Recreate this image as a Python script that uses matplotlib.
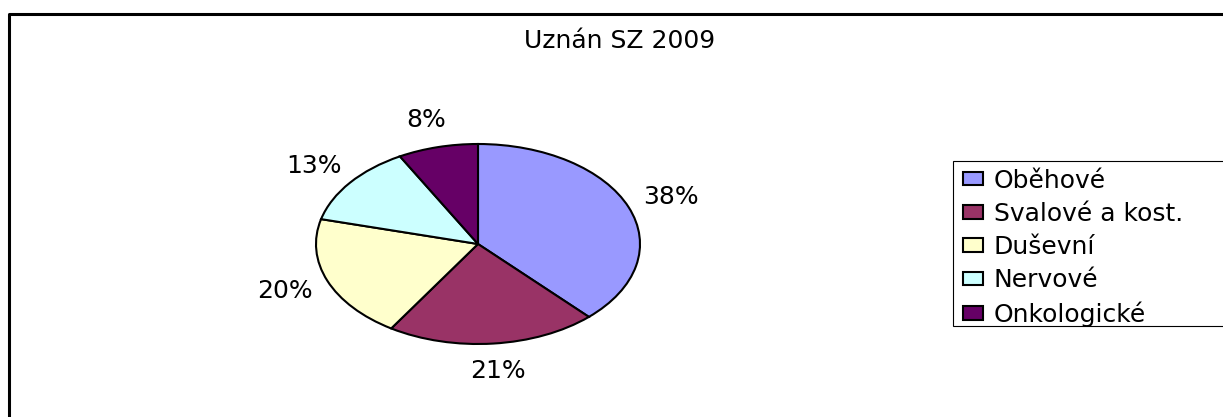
import matplotlib.pyplot as plt
from matplotlib.lines import Line2D
from matplotlib.patches import Rectangle, Patch

plt.rcParams['font.family'] = ['DejaVu Sans']

# data
categories = ["Oběhové", "Svalové a kost.", "Duševní", "Nervové", "Onkologické"]
shares = [38, 21, 20, 13, 8]
colors = ["#9999FF", "#993366", "#FFFFCC", "#CCFFFF", "#660066"]
title = "Uznán SZ 2009"

W, H = 1223, 417
fig = plt.figure(figsize=(W / 100, H / 100), dpi=100)


def fx(px):
    return px / W


def fy(py):
    return 1 - py / H


# the pie is an ellipse in the original (stretched image), so axes aspect is left auto
cx, cy, rx, ry = 478, 244, 162, 100
ax = fig.add_axes([fx(cx - rx), fy(cy + ry), 2 * rx / W, 2 * ry / H])
wedges, texts, autotexts = ax.pie(
    shares, colors=colors, startangle=90, counterclock=False,
    autopct=lambda p: f"{p:.0f}%", pctdistance=1.28,
    wedgeprops=dict(edgecolor="black", linewidth=1.5),
    textprops=dict(fontsize=18, color="black"),
)
ax.set_aspect("auto")
ax.set_xlim(-1, 1)
ax.set_ylim(-1, 1)
for t in autotexts:
    t.set_clip_on(False)

fig.text(fx(620), fy(41), title, ha="center", va="center", fontsize=18)

# legend box, runs off the right edge like the reference
fig.patches.append(Rectangle((fx(953), fy(326)), fx(300), (326 - 161) / H,
                             transform=fig.transFigure, facecolor="white",
                             edgecolor="black", linewidth=0.8, zorder=1))
handles = [Patch(facecolor=c, edgecolor="black", linewidth=1.5) for c in colors]
leg = fig.legend(handles, categories, loc="upper left",
                 bbox_to_anchor=(fx(960), fy(166)), frameon=False,
                 fontsize=18, handlelength=0.8, handleheight=0.45,
                 handletextpad=0.45, labelspacing=0.37, borderpad=0.1,
                 borderaxespad=0)
leg.set_zorder(2)

# outer frame: only left and top edges are visible in the crop
fig.add_artist(Line2D([fx(9), fx(9), 1.0], [0.0, fy(14), fy(14)],
                      transform=fig.transFigure, color="black", linewidth=2.2))

fig.savefig("out.png", dpi=100)
